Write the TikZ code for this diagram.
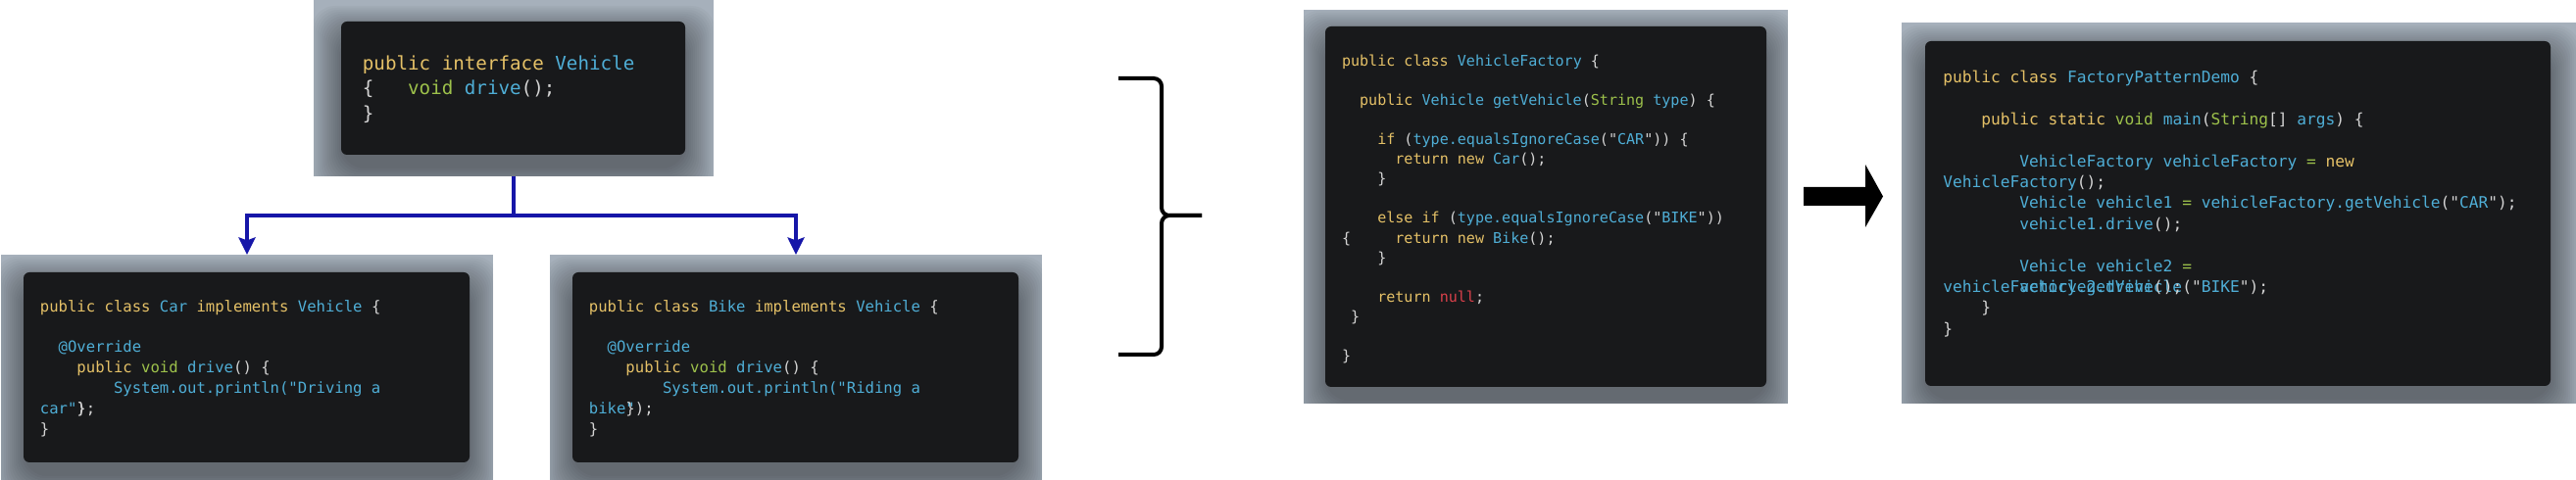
\documentclass[tikz,border=0pt]{standalone}
\usepackage{fontspec}
\usetikzlibrary{arrows.meta,fit}

\newfontfamily\codefont{DejaVu Sans Mono}

\definecolor{panelbg}{HTML}{A6B0BB}
\definecolor{boxbg}{HTML}{18191B}
\definecolor{codeplain}{HTML}{D4D4D4}
\definecolor{kwyellow}{HTML}{E5C167}
\definecolor{idcyan}{HTML}{4FAED6}
\definecolor{tygreen}{HTML}{9DC14B}
\definecolor{nullred}{HTML}{D8404A}
\definecolor{linkblue}{HTML}{1616A8}

\newcommand\ckw[1]{\textcolor{kwyellow}{#1}}
\newcommand\cid[1]{\textcolor{idcyan}{#1}}
\newcommand\cty[1]{\textcolor{tygreen}{#1}}
\newcommand\cnull[1]{\textcolor{nullred}{#1}}
\newcommand\cind[1]{\hspace*{#1\fontcharwd\font`0}}

\begin{document}
\begin{tikzpicture}[x=0.5pt,y=-0.5pt,
  panel/.style={fill=panelbg, inner sep=0pt, outer sep=0pt},
  codebox/.style={fill=boxbg, rounded corners=3pt, inner sep=0pt, outer sep=0pt},
  blur/.style={fill=black, fill opacity=0.026, rounded corners=12pt},
  code/.style={anchor=north west, inner sep=0pt, align=left, text=codeplain},
  link/.style={draw=linkblue, line width=1.65pt},
  tip/.style={-{Stealth[length=8.8pt, width=8.5pt, inset=1.5pt]}},
  bracestroke/.style={line width=2pt, rounded corners=4pt}]

\useasboundingbox (0,0) rectangle (2628,490);

% grey panels
\node[panel, fit={(320,0) (728,180)}] (ifacepanel) {};
\node[panel, fit={(1,260) (503,490)}] (carpanel) {};
\node[panel, fit={(561,260) (1063,490)}] (bikepanel) {};
\node[panel, fit={(1330,10) (1824,412)}] (factorypanel) {};
\node[panel, fit={(1940,23) (2628,412)}] (demopanel) {};

% corners of the code boxes
\coordinate (ifaceA) at (348,22);     \coordinate (ifaceB) at (699,158);
\coordinate (carA) at (24,278);       \coordinate (carB) at (479,472);
\coordinate (bikeA) at (584,278);     \coordinate (bikeB) at (1039,472);
\coordinate (factoryA) at (1352,27);  \coordinate (factoryB) at (1802,395);
\coordinate (demoA) at (1964,42);     \coordinate (demoB) at (2602,394);

% soft shadow under each box
\foreach \p in {iface,car,bike,factory,demo} {
  \begin{scope}
    \clip (\p panel.north west) rectangle (\p panel.south east);
    \foreach \s in {0,2,...,30}
      \fill[blur] ([shift={(-\s,14-\s)}]\p A) rectangle ([shift={(\s,14+\s)}]\p B);
  \end{scope}
}

\node[codebox, fit=(ifaceA) (ifaceB)] (ifacebox) {};
\node[codebox, fit=(carA) (carB)] (carbox) {};
\node[codebox, fit=(bikeA) (bikeB)] (bikebox) {};
\node[codebox, fit=(factoryA) (factoryB)] (factorybox) {};
\node[codebox, fit=(demoA) (demoB)] (demobox) {};

% code
\node[code, font={\codefont\fontsize{9.6}{12.75}\selectfont}] (ifacecode) at (369.5,56.4) {%
\ckw{public interface} \cid{Vehicle}\\
\{\cind{3}\cty{void} \cid{drive}();\\
\}};

\node[code, font={\codefont\fontsize{7.8}{10.4}\selectfont}] (carcode) at (40.5,306) {%
\ckw{public class} \cid{Car} \ckw{implements} \cid{Vehicle} \{\\
\mbox{}\\
\cind{2}\cid{@Override}\\
\cind{4}\ckw{public} \cty{void} \cid{drive}() \{\\
\cind{8}\cid{System.out.println("Driving a}\\
\cid{car"}\rlap{)}\};\\
\}};

\node[code, font={\codefont\fontsize{7.8}{10.4}\selectfont}] (bikecode) at (600.5,306) {%
\ckw{public class} \cid{Bike} \ckw{implements} \cid{Vehicle} \{\\
\mbox{}\\
\cind{2}\cid{@Override}\\
\cind{4}\ckw{public} \cty{void} \cid{drive}() \{\\
\cind{8}\cid{System.out.println("Riding a}\\
\cid{bike}\rlap{\cid{"}}\});\\
\}};

\node[code, font={\codefont\fontsize{7.53}{10.03}\selectfont}] (factorycode) at (1368.6,55.6) {%
\ckw{public class} \cid{VehicleFactory} \{\\
\mbox{}\\
\cind{2}\ckw{public} \cid{Vehicle getVehicle}(\cty{String} \cid{type}) \{\\
\mbox{}\\
\cind{4}\ckw{if} (\cid{type.equalsIgnoreCase}("\cid{CAR}")) \{\\
\cind{6}\ckw{return new} \cid{Car}();\\
\cind{4}\}\\
\mbox{}\\
\cind{4}\ckw{else if} (\cid{type.equalsIgnoreCase}("\cid{BIKE}"))\\
\{\cind{5}\ckw{return new} \cid{Bike}();\\
\cind{4}\}\\
\mbox{}\\
\cind{4}\ckw{return} \cnull{null};\\
\cind{1}\}\\
\mbox{}\\
\}};

\node[code, font={\codefont\fontsize{8.1}{10.7}\selectfont}] (democode) at (1982,71.7) {%
\ckw{public class} \cid{FactoryPatternDemo} \{\\
\mbox{}\\
\cind{4}\ckw{public static} \cty{void} \cid{main}(\cty{String}[] \cid{args}) \{\\
\mbox{}\\
\cind{8}\cid{VehicleFactory vehicleFactory} \cty{=} \ckw{new}\\
\cid{VehicleFactory}();\\
\cind{8}\cid{Vehicle vehicle1} \cty{=} \cid{vehicleFactory.getVehicle}("\cid{CAR}");\\
\cind{8}\cid{vehicle1.drive}();\\
\mbox{}\\
\cind{8}\cid{Vehicle vehicle2} \cty{=}\\
\rlap{\cid{vehicleFactory.getVehicle}("\cid{BIKE}");}\cind{8}\cid{vehicle2.drive}();\\
\cind{4}\}\\
\}};

% interface -> implementations
\coordinate (split) at (524,220);
\draw[link] (ifacepanel.south) -- (split);
\draw[link, tip] (split) -| (carpanel.north);
\draw[link, tip] (split) -| (bikepanel.north);

% brace
\draw[bracestroke] (1141,80) -- (1185,80) -- (1185,220) -- (1226,220);
\draw[bracestroke] (1141,362) -- (1185,362) -- (1185,220) -- (1226,220);

% block arrow
\fill (1840,191) -- (1903,191) -- (1903,168) -- (1921,200.5) -- (1903,232) -- (1903,210) -- (1840,210) -- cycle;

\end{tikzpicture}
\end{document}
